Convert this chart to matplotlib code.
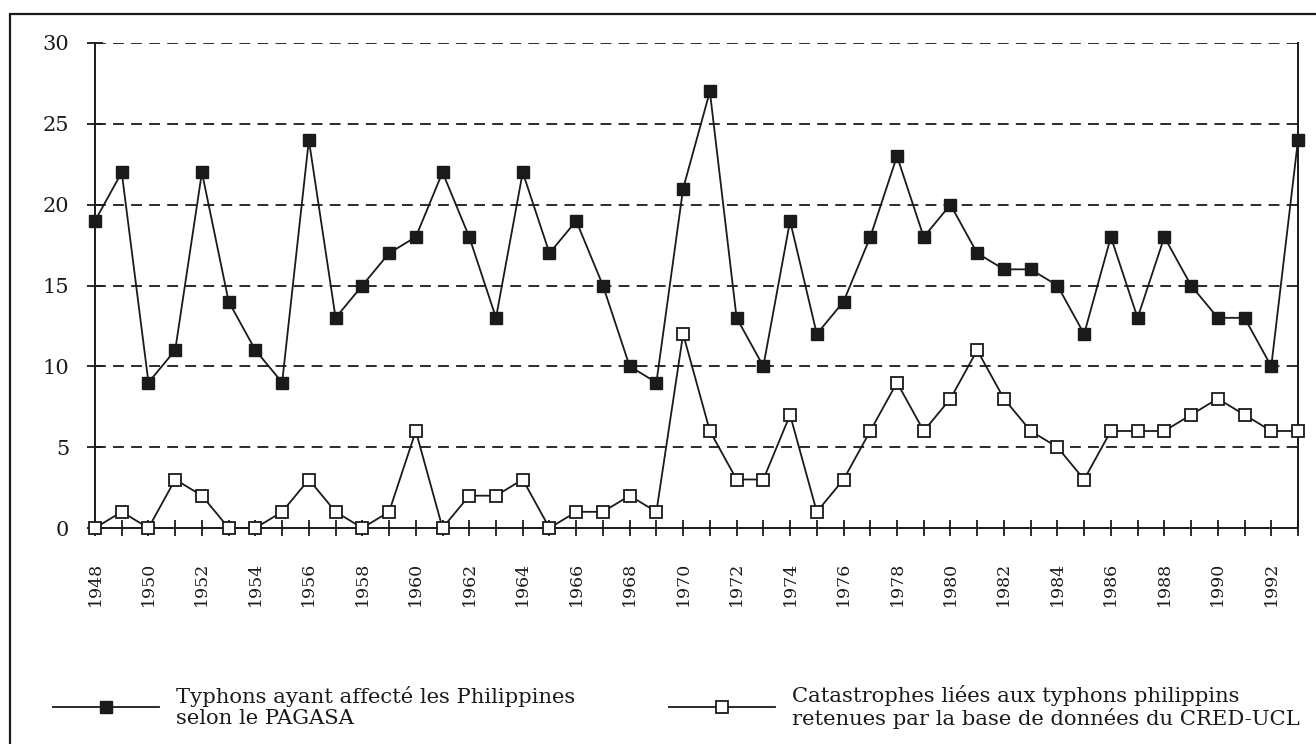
import matplotlib.pyplot as plt
from matplotlib.patches import Rectangle

years = list(range(1948, 1994))
pagasa = [19, 22, 9, 11, 22, 14, 11, 9, 24, 13, 15, 17, 18, 22, 18, 13, 22, 17, 19, 15,
          10, 9, 21, 27, 13, 10, 19, 12, 14, 18, 23, 18, 20, 17, 16, 16, 15, 12, 18, 13,
          18, 15, 13, 13, 10, 24]
cred = [0, 1, 0, 3, 2, 0, 0, 1, 3, 1, 0, 1, 6, 0, 2, 2, 3, 0, 1, 1,
        2, 1, 12, 6, 3, 3, 7, 1, 3, 6, 9, 6, 8, 11, 8, 6, 5, 3, 6, 6,
        6, 7, 8, 7, 6, 6]
yticks = [0, 5, 10, 15, 20, 25, 30]
label_pagasa = "Typhons ayant affecté les Philippines\nselon le PAGASA"
label_cred = "Catastrophes liées aux typhons philippins\nretenues par la base de données du CRED-UCL"

plt.rcParams['font.family'] = ['DejaVu Serif']
ink = '#1a1a1a'

fig = plt.figure(figsize=(13.16, 7.44), dpi=100)
ax = fig.add_axes([95 / 1316, 1 - 528 / 744, (1298 - 95) / 1316, (528 - 43) / 744])

# outer frame (right and bottom edges fall outside the scan)
fig.patches.append(Rectangle((10 / 1316, -0.1), 1.1, 1 - 14 / 744 + 0.1,
                             transform=fig.transFigure, fill=False,
                             edgecolor=ink, lw=1.6))

for y in yticks[1:]:
    ax.axhline(y, color=ink, lw=1.3, linestyle=(0, (6, 4)), zorder=1)

l1, = ax.plot(years, pagasa, color=ink, lw=1.3, marker='s', markersize=8.5,
              markerfacecolor=ink, markeredgecolor=ink, clip_on=False, zorder=3)
l2, = ax.plot(years, cred, color=ink, lw=1.3, marker='s', markersize=8.5,
              markerfacecolor='white', markeredgecolor=ink, markeredgewidth=1.3,
              clip_on=False, zorder=3)

ax.set_xlim(1948, 1993)
ax.set_ylim(0, 30)
ax.set_yticks(yticks)
ax.set_xticks(years)
ax.set_xticklabels([str(y) if y % 2 == 0 else '' for y in years], rotation=90)
ax.tick_params(axis='x', direction='inout', length=11, width=1.3, pad=19,
               labelsize=12.5, colors=ink)
ax.tick_params(axis='y', direction='inout', length=11, width=1.3, pad=13,
               labelsize=15, colors=ink)
ax.spines['top'].set_visible(False)
for s in ['left', 'right', 'bottom']:
    ax.spines[s].set_color(ink)
    ax.spines[s].set_linewidth(1.4)

leg_kw = dict(loc='center left', frameon=False, borderpad=0, borderaxespad=0,
              handlelength=5.0, handletextpad=0.85, fontsize=15.2, labelspacing=0)
leg1 = fig.legend([l1], [label_pagasa], bbox_to_anchor=(53 / 1316, 1 - 707 / 744), **leg_kw)
leg2 = fig.legend([l2], [label_cred], bbox_to_anchor=(669 / 1316, 1 - 707 / 744), **leg_kw)
for leg in (leg1, leg2):
    for t in leg.get_texts():
        t.set_linespacing(1.1)
        t.set_color(ink)

fig.savefig('out.png', dpi=100)
